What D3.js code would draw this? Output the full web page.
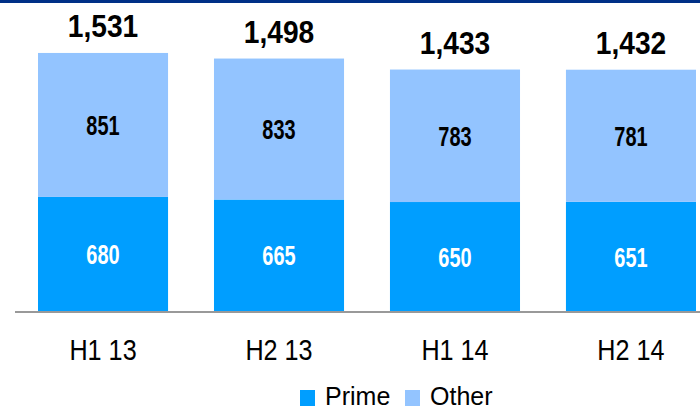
<!DOCTYPE html>
<html>
<head>
<meta charset="utf-8">
<script src="https://cdn.jsdelivr.net/npm/d3@7"></script>
<style>
  body { margin: 0; background: #fff; }
  text { font-family: "Liberation Sans", Arial, sans-serif; }
</style>
</head>
<body>
<svg id="chart" width="700" height="410"></svg>
<script>
const periods = ['H1 13', 'H2 13', 'H1 14', 'H2 14'];
const prime = [680, 665, 650, 651];
const other = [851, 833, 783, 781];
const totals = [1531, 1498, 1433, 1432];
const seriesNames = ['Prime', 'Other'];
const colors = ['#009eff', '#93c4ff'];

const svg = d3.select('#chart');

// navy rule across the top
svg.append('rect')
  .attr('x', 0).attr('y', 0)
  .attr('width', 700).attr('height', 3)
  .style('fill', '#003087');

const x = d3.scaleBand()
  .domain(periods)
  .range([15, 719])
  .paddingInner(0.261)
  .paddingOuter(0.1307);

const y = d3.scaleLinear()
  .domain([0, 1844])
  .range([312, 0]);

const rows = periods.map((p, i) => ({ period: p, Prime: prime[i], Other: other[i], total: totals[i] }));
const stacked = d3.stack().keys(seriesNames)(rows);

svg.append('g')
  .selectAll('g')
  .data(stacked)
  .enter()
  .append('g')
  .style('fill', (d, i) => colors[i])
  .selectAll('rect')
  .data(d => d)
  .enter()
  .append('rect')
  .attr('x', d => x(d.data.period))
  .attr('y', d => y(d[1]))
  .attr('width', x.bandwidth())
  .attr('height', d => y(d[0]) - y(d[1]));

// segment labels (narrowed, the original font is condensed)
svg.append('g')
  .selectAll('g')
  .data(stacked)
  .enter()
  .append('g')
  .style('fill', (d, i) => i === 0 ? '#fff' : '#000')
  .selectAll('text')
  .data(d => d)
  .enter()
  .append('text')
  .attr('transform', d => 'translate(' + (x(d.data.period) + x.bandwidth() / 2) + ',' + ((y(d[0]) + y(d[1])) / 2) + ') scale(0.74,1)')
  .attr('dy', '0.36em')
  .attr('text-anchor', 'middle')
  .style('font-size', '27px')
  .style('font-weight', 'bold')
  .text(d => d[1] - d[0]);

// totals above bars
svg.append('g')
  .selectAll('text')
  .data(rows)
  .enter()
  .append('text')
  .attr('transform', d => 'translate(' + (x(d.period) + x.bandwidth() / 2) + ',' + (y(d.total) - 16) + ') scale(0.88,1)')
  .attr('text-anchor', 'middle')
  .style('font-size', '32px')
  .style('font-weight', 'bold')
  .text(d => d3.format(',')(d.total));

// category labels
const xAxis = svg.append('g')
  .attr('transform', 'translate(0,312)')
  .call(d3.axisBottom(x).tickSize(0).tickPadding(27));
xAxis.select('.domain').remove();
xAxis.selectAll('text')
  .attr('transform', 'scale(0.84,1)')
  .style('font-family', '"Liberation Sans", Arial, sans-serif')
  .style('font-size', '30px')
  .style('fill', '#000');

// baseline
svg.append('line')
  .attr('x1', 15).attr('x2', 700)
  .attr('y1', 312).attr('y2', 312)
  .style('stroke', '#999')
  .style('stroke-width', 2);

// legend
const legend = svg.append('g');
const legendX = [300, 405];
seriesNames.forEach((name, i) => {
  legend.append('rect')
    .attr('x', legendX[i]).attr('y', 390)
    .attr('width', 15).attr('height', 16)
    .style('fill', colors[i]);
  legend.append('text')
    .attr('x', legendX[i] + 25)
    .attr('y', 405)
    .style('font-size', '25px')
    .text(name);
});
</script>
</body>
</html>
